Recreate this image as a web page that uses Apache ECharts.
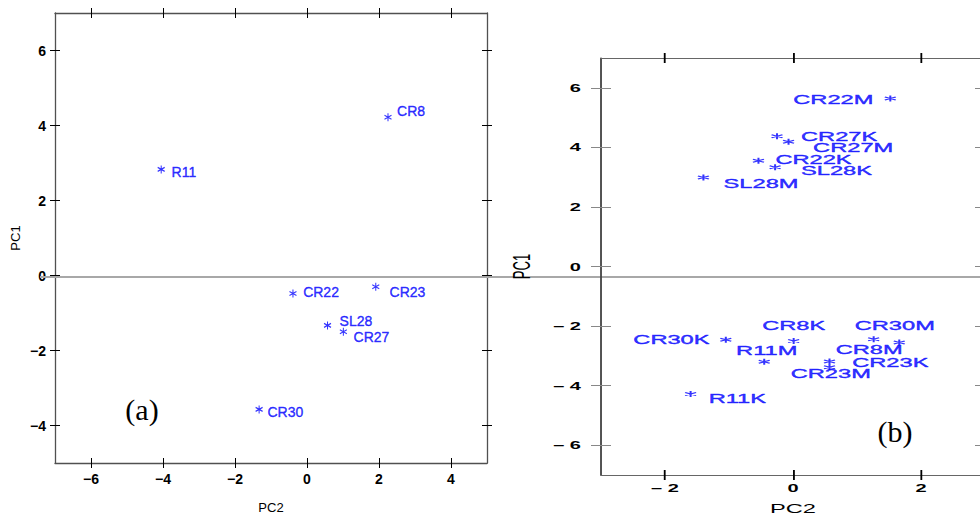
<!DOCTYPE html>
<html>
<head>
<meta charset="utf-8">
<script src="https://cdn.jsdelivr.net/npm/echarts@6/dist/echarts.min.js"></script>
<style>
html,body{margin:0;padding:0;width:980px;height:516px;overflow:hidden;background:#fff;}
#a{position:absolute;left:0;top:0;width:980px;height:516px;}
#b{position:absolute;left:500px;top:0;width:275px;height:516px;transform:scaleX(1.82);transform-origin:0 0;}
</style>
</head>
<body>
<div id="a"></div>
<div id="b"></div>
<script>
// ---- Panel (a) data ----
const namesA = ['R11','CR8','CR22','CR23','SL28','CR27','CR30'];
const pc2A = [-4.05, 2.25, -0.39, 1.91, 0.57, 1.01, -1.33];
const pc1A = [2.83, 4.22, -0.48, -0.30, -1.33, -1.50, -3.57];
const labelPc2A = [-3.42, 2.89, 0.39, 2.79, 1.36, 1.79, -0.60];
const labelPc1A = [2.75, 4.38, -0.43, -0.44, -1.22, -1.63, -3.64];
const xTicksA = [-6, -4, -2, 0, 2, 4];
const yTicksA = [-4, -2, 0, 2, 4, 6];
const xRangeA = [-7, 5];
const yRangeA = [-5, 7];

// ---- Panel (b) data ----
const namesB = ['CR22M','CR27K','CR27M','CR22K','SL28K','SL28M','CR30K','CR8K','CR30M','CR8M','R11M','CR23K','CR23M','R11K'];
const pc2B = [1.52, -0.25, -0.07, -0.54, -0.28, -1.40, -1.05, 0.01, 1.66, 1.26, -0.45, 0.57, 0.57, -1.60];
const pc1B = [5.64, 4.37, 4.19, 3.55, 3.33, 2.99, -2.46, -2.50, -2.55, -2.44, -3.20, -3.19, -3.38, -4.28];
const labelPc2B = [0.63, 0.72, 0.94, 0.32, 0.68, -0.50, -1.90, 0.01, 1.59, 1.19, -0.41, 1.52, 0.59, -0.87];
const labelPc1B = [5.60, 4.37, 3.98, 3.59, 3.23, 2.80, -2.44, -1.99, -1.99, -2.80, -2.82, -3.23, -3.61, -4.42];
const xTicksB = [-2, 0, 2];
const yTicksB = [-6, -4, -2, 0, 2, 4, 6];
const xRangeB = [-3, 3];
const yRangeB = [-7, 7];

const BLUE = '#0000ff';
const STAR = 'path://M5,0L5,10M0.67,2.5L9.33,7.5M0.67,7.5L9.33,2.5';

function axisSet(dim, range, ticks, c) {
  const posMain = dim === 'x' ? 'bottom' : 'left';
  const posOpp = dim === 'x' ? 'top' : 'right';
  const base = (pos, inside, main) => ({
    type: 'value', position: pos, min: range[0], max: range[1],
    axisLine: { show: main, onZero: false, lineStyle: { color: c.lineColor, width: c.lineWidth } },
    axisTick: { show: true, inside: inside, length: c.tickLen, customValues: ticks,
                lineStyle: { color: c.tickColor, width: 1 } },
    axisLabel: { show: false },
    splitLine: { show: false }
  });
  const mainAx = base(posMain, false, true);
  mainAx.axisLabel = { show: true, customValues: ticks, formatter: c.labelFmt, margin: c.margin,
                       color: '#000', fontSize: c.labelSize, fontWeight: 'bold', fontFamily: 'Liberation Sans' };
  mainAx.name = c.name; mainAx.nameLocation = 'middle'; mainAx.nameGap = c.nameGap;
  mainAx.nameTextStyle = { color: '#000', fontSize: c.nameSize, fontFamily: 'Liberation Sans' };
  return [mainAx, base(posMain, true, false), base(posOpp, false, true), base(posOpp, true, false)];
}

function series(names, xs, ys, lxs, lys, starSize, fontSize) {
  return [
    {
      type: 'scatter', xAxisIndex: 0, yAxisIndex: 0, silent: true,
      symbol: STAR, symbolSize: starSize,
      itemStyle: { color: BLUE, borderColor: BLUE, borderWidth: 1.1 },
      data: names.map((n, i) => ({ name: n, value: [xs[i], ys[i]] }))
    },
    {
      type: 'scatter', xAxisIndex: 0, yAxisIndex: 0, silent: true,
      symbol: 'circle', symbolSize: 1,
      itemStyle: { color: 'rgba(0,0,0,0)' },
      label: { show: true, position: 'inside', formatter: p => p.name, color: BLUE,
               textBorderColor: BLUE, textBorderWidth: 0.4,
               fontSize: fontSize, fontFamily: 'Liberation Sans' },
      data: names.map((n, i) => ({ name: n, value: [lxs[i], lys[i]] }))
    }
  ];
}

const fmtA = v => (v < 0 ? '\u2212' + (-v) : String(v));
const fmtB = v => (v < 0 ? '\u2013 ' + (-v) : String(v));

const chartA = echarts.init(document.getElementById('a'), null, { renderer: 'svg' });
chartA.setOption({
  animation: false,
  grid: { left: 55, right: 493, top: 13, bottom: 53, outerBoundsMode: 'none', containLabel: false },
  xAxis: axisSet('x', xRangeA, xTicksA, { lineColor: '#505050', lineWidth: 1.3, tickColor: '#000', tickLen: 5,
    labelFmt: fmtA, margin: 9, labelSize: 14, name: 'PC2', nameGap: 38, nameSize: 13 }),
  yAxis: axisSet('y', yRangeA, yTicksA, { lineColor: '#505050', lineWidth: 1.3, tickColor: '#000', tickLen: 5,
    labelFmt: fmtA, margin: 9, labelSize: 14, name: 'PC1', nameGap: 33, nameSize: 13 }),
  series: series(namesA, pc2A, pc1A, labelPc2A, labelPc1A, [7, 8], 14),
  graphic: [
    { type: 'text', x: 142, y: 409, z: 10,
      style: { text: '(a)', font: '30px "Liberation Serif"', fill: '#000', align: 'center', verticalAlign: 'middle' } },
    { type: 'text', x: 895, y: 431, z: 10,
      style: { text: '(b)', font: '30px "Liberation Serif"', fill: '#000', align: 'center', verticalAlign: 'middle' } },
    { type: 'line', z: 20, shape: { x1: 40, y1: 277, x2: 980, y2: 277 },
      style: { stroke: '#a8a8a8', lineWidth: 2 } }
  ]
});

const chartB = echarts.init(document.getElementById('b'), null, { renderer: 'svg' });
const xB = axisSet('x', xRangeB, xTicksB, { lineColor: '#666', lineWidth: 1, tickColor: '#000', tickLen: 5,
    labelFmt: fmtB, margin: 7, labelSize: 11, name: 'PC2', nameGap: 27, nameSize: 13 });
const yB = axisSet('y', yRangeB, yTicksB, { lineColor: '#444', lineWidth: 1, tickColor: '#888', tickLen: 5.5,
    labelFmt: fmtB, margin: 11, labelSize: 11, name: 'PC1', nameGap: 33, nameSize: 13 });
chartB.setOption({
  animation: false,
  grid: { left: 55.5, right: 8.5, top: 58, bottom: 41, outerBoundsMode: 'none', containLabel: false },
  xAxis: xB,
  yAxis: yB,
  series: series(namesB, pc2B, pc1B, labelPc2B, labelPc1B, [6, 6], 13)
});
</script>
</body>
</html>
